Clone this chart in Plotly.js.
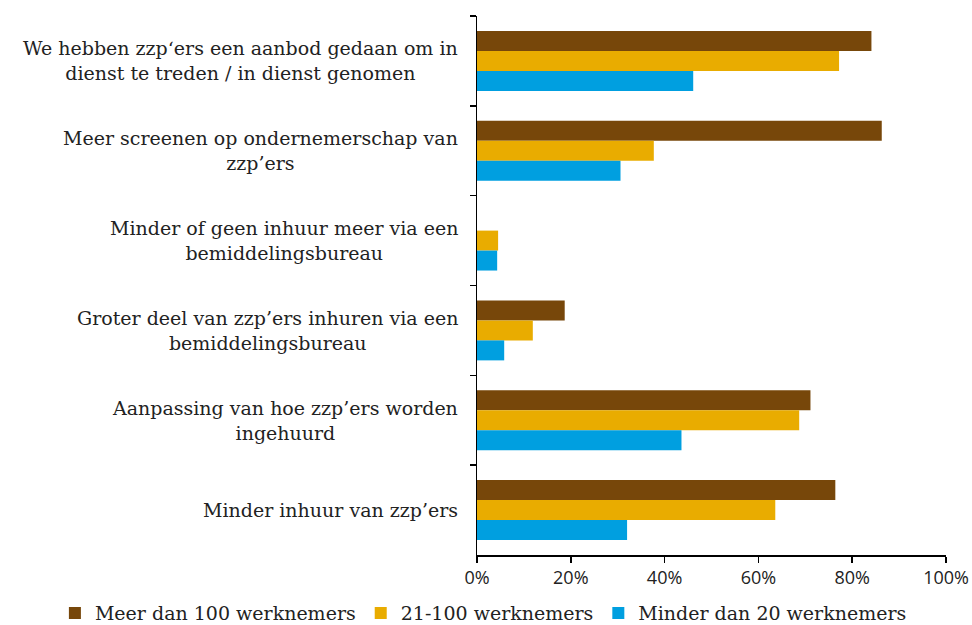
<!DOCTYPE html>
<html>
<head>
<meta charset="utf-8">
<script src="https://cdn.plot.ly/plotly-3.0.1.min.js"></script>
<style>
  html, body { margin: 0; padding: 0; background: #fff; }
  #chart { width: 972px; height: 625px; }
</style>
</head>
<body>
<div id="chart"></div>
<script>
// categories, top to bottom as in the picture
const categories = [
  'We hebben zzp‘ers een aanbod gedaan om in<br>dienst te treden / in dienst genomen',
  'Meer screenen op ondernemerschap van<br>zzp’ers',
  'Minder of geen inhuur meer via een<br>bemiddelingsbureau',
  'Groter deel van zzp’ers inhuren via een<br>bemiddelingsbureau',
  'Aanpassing van hoe zzp’ers worden<br>ingehuurd',
  'Minder inhuur van zzp’ers'
];

const seriesNames = ['Meer dan 100 werknemers', '21-100 werknemers', 'Minder dan 20 werknemers'];
const colors = ['#77470a', '#e9ac00', '#009fe0'];

// shares (0..1)
const meerDan100 = [0.841, 0.863, 0.0, 0.187, 0.711, 0.764];
const van21tot100 = [0.772, 0.377, 0.045, 0.119, 0.687, 0.636];
const minderDan20 = [0.461, 0.306, 0.043, 0.058, 0.436, 0.320];

const xTicks = [0, 0.2, 0.4, 0.6, 0.8, 1.0];

const values = [meerDan100, van21tot100, minderDan20];
const serif = 'DejaVu Serif, serif';

const traces = values.map((v, i) => ({
  type: 'bar',
  orientation: 'h',
  name: seriesNames[i],
  x: v,
  y: categories,
  marker: {color: colors[i]},
  hoverinfo: 'x+name'
}));

// category labels as centred annotations (the original centres wrapped lines)
const labelNotes = categories.map(c => ({
  text: c,
  xref: 'paper', yref: 'y',
  x: 0, y: c,
  xanchor: 'right', yanchor: 'middle',
  xshift: -17,
  align: 'center',
  showarrow: false,
  font: {family: serif, size: 19, color: '#222'}
}));

Plotly.newPlot('chart', traces, {
  width: 972, height: 625,
  margin: {l: 477, r: 26, t: 16, b: 70, autoexpand: false},
  paper_bgcolor: '#fff', plot_bgcolor: '#fff',
  barmode: 'group',
  bargap: 0.333,
  bargroupgap: 0,
  showlegend: true,
  // left of and below the plot area, so plotly lets it run the full width
  legend: {
    orientation: 'h',
    x: -0.9, y: -0.108, xanchor: 'left', yanchor: 'middle',
    traceorder: 'normal',
    font: {family: serif, size: 19, color: '#222'},
    itemwidth: 30
  },
  xaxis: {
    range: [0, 1],
    tickvals: xTicks,
    tickformat: '.0%',
    showgrid: false,
    zeroline: false,
    showline: true, linecolor: '#000', linewidth: 1.5,
    ticks: 'outside', ticklen: 6, tickcolor: '#000', tickwidth: 1.5,
    tickfont: {family: 'Open Sans, sans-serif', size: 18, color: '#222'},
    fixedrange: true
  },
  yaxis: {
    type: 'category',
    autorange: 'reversed',
    showticklabels: false,
    showgrid: false,
    zeroline: false,
    showline: true, linecolor: '#000', linewidth: 1.5,
    ticks: 'outside', tickson: 'boundaries', ticklen: 6, tickcolor: '#000', tickwidth: 1.5,
    fixedrange: true
  },
  annotations: labelNotes
}, {displayModeBar: false, staticPlot: true});
</script>
</body>
</html>
